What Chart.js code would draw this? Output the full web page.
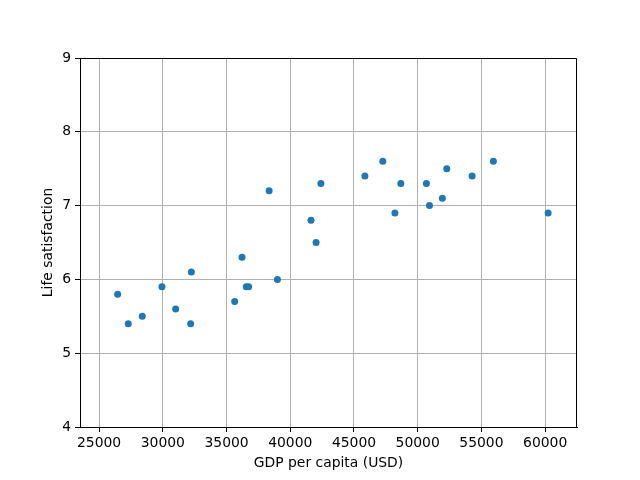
<!DOCTYPE html>
<html>
<head>
<meta charset="utf-8">
<script src="https://cdn.jsdelivr.net/npm/chart.js@4"></script>
<style>
  body { margin: 0; background: #fff; }
  #wrap { width: 640px; height: 480px; }
</style>
</head>
<body>
<div id="wrap"><canvas id="chartLife" width="640" height="480"></canvas></div>
<script>
// GDP per capita (USD) vs life satisfaction
const gdpValues = [26456, 27287, 28385, 29932, 31008, 32181, 32238, 35638, 36215, 36548,
  36732, 38341, 38992, 41627, 42026, 42404, 45857, 47261, 48210, 48675,
  50683, 50922, 51936, 52280, 54270, 55938, 60236];
const lifeValues = [5.8, 5.4, 5.5, 5.9, 5.6, 5.4, 6.1, 5.7, 6.3, 5.9,
  5.9, 7.2, 6.0, 6.8, 6.5, 7.3, 7.4, 7.6, 6.9, 7.3,
  7.3, 7.0, 7.1, 7.5, 7.4, 7.6, 6.9];
const xTicks = [25000, 30000, 35000, 40000, 45000, 50000, 55000, 60000];
const yTicks = [4, 5, 6, 7, 8, 9];

const points = gdpValues.map((g, i) => ({ x: g, y: lifeValues[i] }));

const fontBase = { family: 'DejaVu Sans', size: 13.9 };

// top and right spines like matplotlib
const frame = {
  id: 'frame',
  afterDraw(chart) {
    const a = chart.chartArea;
    const ctx = chart.ctx;
    const top = Math.round(a.top) + 0.5;
    const right = Math.round(a.right) - 0.5;
    ctx.save();
    ctx.strokeStyle = '#000';
    ctx.lineWidth = 1;
    ctx.beginPath();
    ctx.moveTo(a.left, top);
    ctx.lineTo(right, top);
    ctx.lineTo(right, a.bottom);
    ctx.stroke();
    ctx.restore();
  }
};

var lifeChart = new Chart(document.getElementById('chartLife'), {
  type: 'scatter',
  data: {
    datasets: [{
      data: points,
      backgroundColor: '#1f77b4',
      borderWidth: 0,
      pointRadius: 3.5,
      pointHoverRadius: 3.5
    }]
  },
  options: {
    responsive: false,
    animation: false,
    layout: { padding: { left: 0, top: 58, right: 63, bottom: 0 } },
    plugins: { legend: { display: false }, tooltip: { enabled: false } },
    scales: {
      x: {
        type: 'linear',
        min: 23500,
        max: 62500,
        afterBuildTicks: axis => { axis.ticks = xTicks.map(v => ({ value: v })); },
        afterFit: axis => { axis.height = 53; },
        grid: { color: '#b0b0b0', lineWidth: 1, tickColor: '#000', tickLength: 5 },
        border: { color: '#000', width: 1 },
        ticks: { color: '#000', font: fontBase, padding: 3, maxRotation: 0, autoSkip: false,
          callback: v => String(v) },
        title: { display: true, text: 'GDP per capita (USD)', color: '#000', font: fontBase, padding: { top: 0, bottom: 8 } }
      },
      y: {
        min: 4,
        max: 9,
        afterBuildTicks: axis => { axis.ticks = yTicks.map(v => ({ value: v })); },
        afterFit: axis => { axis.width = 80; },
        grid: { color: '#b0b0b0', lineWidth: 1, tickColor: '#000', tickLength: 5 },
        border: { color: '#000', width: 1 },
        ticks: { color: '#000', font: fontBase, padding: 4, autoSkip: false },
        title: { display: true, text: 'Life satisfaction', color: '#000', font: fontBase, padding: { top: 40, bottom: 0 } }
      }
    }
  },
  plugins: [frame]
});
</script>
</body>
</html>
